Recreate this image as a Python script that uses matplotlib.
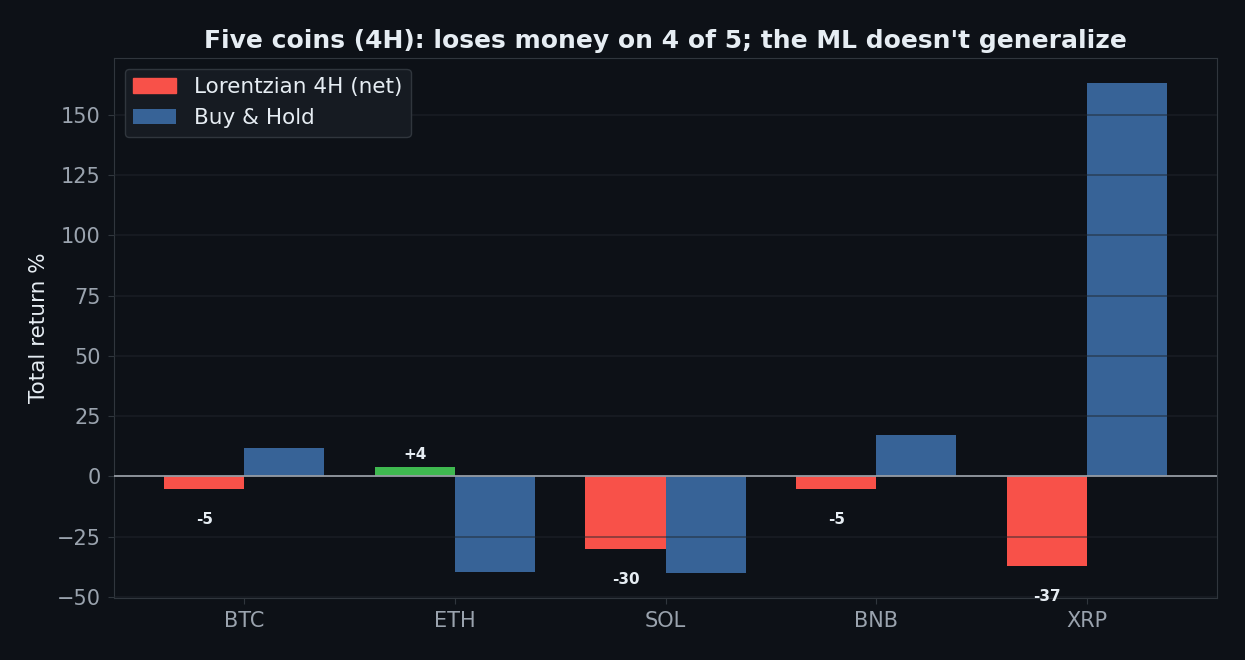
import numpy as np
import matplotlib.pyplot as plt

BG = "#0d1117"
PANEL = "#161b22"
EDGE = "#30363d"
GRID = "#21262d"
TEXT = "#e6edf3"
MUTED = "#9aa3ae"
RED = "#f85149"
GREEN = "#3fb950"
BLUE = "#376397"

coins = ["BTC", "ETH", "SOL", "BNB", "XRP"]
strategy = [-5, 4, -30, -5, -37]
buy_hold = [12, -39.8, -40.2, 17, 163.3]

x = np.arange(len(coins))
w = 0.38

fig, ax = plt.subplots(figsize=(12.45, 6.6), dpi=100)
fig.patch.set_facecolor(BG)
ax.set_facecolor(BG)

strat_colors = [GREEN if v > 0 else RED for v in strategy]
ax.bar(x - w / 2, strategy, w, color=strat_colors, label="Lorentzian 4H (net)")
ax.bar(x + w / 2, buy_hold, w, color=BLUE, label="Buy & Hold")
ax.axhline(0, color="#a0a6ae", linewidth=1.2, zorder=3)

# value labels: above positive bars, below negative ones
for xi, v in zip(x, strategy):
    y = v + 5 if v > 0 else v - 12.8
    ax.text(xi - w / 2, y, f"{v:+d}" if v > 0 else f"{v:d}",
            ha="center", va="center", color=TEXT, fontsize=11, fontweight="bold")

ax.set_xticks(x)
ax.set_xticklabels(coins)
ax.set_ylabel("Total return %", color=TEXT, fontsize=15.5, labelpad=6)
ax.set_title("Five coins (4H): loses money on 4 of 5; the ML doesn't generalize",
             color=TEXT, fontsize=18, fontweight="bold", pad=7.5)
ax.tick_params(colors=MUTED, labelsize=15, length=4.5, pad=5)
ax.tick_params(axis="both", color=EDGE)
ax.yaxis.grid(True, color=GRID, linewidth=1.2, alpha=0.55, zorder=2.5)
ax.set_axisbelow(False)
for spine in ax.spines.values():
    spine.set_color(EDGE)

leg = ax.legend(loc="upper left", fontsize=15.5, facecolor=PANEL, edgecolor=EDGE,
                labelcolor=TEXT, framealpha=1.0)
leg.get_frame().set_linewidth(1.0)
leg.legend_handles[0].set_color(RED)

plt.subplots_adjust(left=0.0916, right=0.9775, top=0.912, bottom=0.094)
plt.savefig("out.png", dpi=100, facecolor=BG)
